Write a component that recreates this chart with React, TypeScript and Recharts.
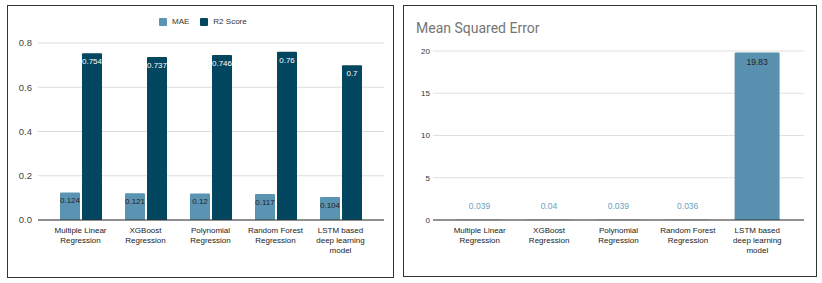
import React from "react";
import { BarChart, Bar, XAxis, YAxis, CartesianGrid, LabelList } from "recharts";

const categories = [
  "Multiple Linear\nRegression",
  "XGBoost\nRegression",
  "Polynomial\nRegression",
  "Random Forest\nRegression",
  "LSTM based\ndeep learning\nmodel",
];
const maeValues = [0.124, 0.121, 0.12, 0.117, 0.104];
const r2Values = [0.754, 0.737, 0.746, 0.76, 0.7];
const mseValues = [0.039, 0.04, 0.039, 0.036, 19.83];
const leftTicks = [0, 0.2, 0.4, 0.6, 0.8];
const rightTicks = [0, 5, 10, 15, 20];

const leftData = categories.map((c, i) => ({ name: c, mae: maeValues[i], r2: r2Values[i] }));
const rightData = categories.map((c, i) => ({ name: c, mse: mseValues[i] }));

const FONT = "'Liberation Sans', Arial, sans-serif";
const MAE_COLOR = "#5b93b3";
const R2_COLOR = "#03465f";

const CatTick = (props: any) => {
  const { x, y, payload } = props;
  const lines = String(payload.value).split("\n");
  return (
    <text x={x} y={y} textAnchor="middle" fontSize={8} fill="#222" fontFamily={FONT}>
      {lines.map((l: string, i: number) => (
        <tspan key={i} x={x} dy={i === 0 ? 13 : 10}>
          {l}
        </tspan>
      ))}
    </text>
  );
};

const MseLabel = (props: any) => {
  const { x, y, width, value } = props;
  const cx = Number(x) + Number(width) / 2;
  if (Number(value) < 1) {
    return (
      <text x={cx} y={Number(y) - 11} textAnchor="middle" fontSize={8.5} fill="#6a9fc0" fontFamily={FONT}>
        {value}
      </text>
    );
  }
  return (
    <text x={cx} y={Number(y) + 13} textAnchor="middle" fontSize={8.5} fill="#222" fontFamily={FONT}>
      {value}
    </text>
  );
};

export default function App() {
  return (
    <div style={{ position: "absolute", left: 0, top: 0, width: 822, height: 283, background: "#fff", overflow: "hidden" }}>
      {/* Left panel */}
      <div style={{ position: "absolute", left: 7, top: 5, width: 387, height: 273, border: "1px solid #333", boxSizing: "border-box" }} />
      <div style={{ position: "absolute", left: 7, top: 5 }}>
        <BarChart
          width={387}
          height={273}
          data={leftData}
          margin={{ top: 38, right: 10, bottom: 18, left: 0 }}
          barSize={20}
          barGap={2}
        >
          <CartesianGrid vertical={false} stroke="#dcdcdc" />
          <XAxis
            dataKey="name"
            tick={<CatTick />}
            tickLine={false}
            tickSize={0}
            tickMargin={0}
            interval={0}
            height={40}
            axisLine={{ stroke: "#333" }}
            padding={{ left: 10, right: 11 }}
          />
          <YAxis
            domain={[0, 0.8]}
            ticks={leftTicks}
            width={31}
            axisLine={false}
            tickLine={false}
            tickSize={0}
            tickMargin={6}
            tickFormatter={(v: number) => v.toFixed(1)}
            tick={{ fontSize: 9.5, fill: "#444", fontFamily: FONT }}
          />
          <Bar dataKey="mae" fill={MAE_COLOR} isAnimationActive={false} radius={[1, 1, 0, 0]}>
            <LabelList dataKey="mae" position="insideTop" offset={5} fontSize={8} fill="#222" fontFamily={FONT} />
          </Bar>
          <Bar dataKey="r2" fill={R2_COLOR} isAnimationActive={false} radius={[1, 1, 0, 0]}>
            <LabelList dataKey="r2" position="insideTop" offset={5} fontSize={8} fill="#fff" fontFamily={FONT} />
          </Bar>
        </BarChart>
      </div>
      {/* Legend */}
      <div style={{ position: "absolute", left: 159, top: 17, display: "flex", alignItems: "center", fontFamily: FONT, fontSize: 8, color: "#333", lineHeight: "10px" }}>
        <span style={{ display: "inline-block", width: 8, height: 8, background: MAE_COLOR, borderRadius: 1 }} />
        <span style={{ marginLeft: 5 }}>MAE</span>
        <span style={{ display: "inline-block", width: 8, height: 8, background: R2_COLOR, borderRadius: 1, marginLeft: 11 }} />
        <span style={{ marginLeft: 5 }}>R2 Score</span>
      </div>

      {/* Right panel */}
      <div style={{ position: "absolute", left: 403, top: 5, width: 414, height: 272, border: "1px solid #333", boxSizing: "border-box" }} />
      <div style={{ position: "absolute", left: 416, top: 19, fontFamily: "Roboto, sans-serif", fontSize: 14, color: "#757575", lineHeight: "18px" }}>
        Mean Squared Error
      </div>
      <div style={{ position: "absolute", left: 403, top: 5 }}>
        <BarChart
          width={414}
          height={272}
          data={rightData}
          margin={{ top: 46, right: 13, bottom: 17, left: 0 }}
          barSize={45}
        >
          <CartesianGrid vertical={false} stroke="#e0e0e0" />
          <XAxis
            dataKey="name"
            tick={<CatTick />}
            tickLine={false}
            tickSize={0}
            tickMargin={0}
            interval={0}
            height={40}
            axisLine={{ stroke: "#333" }}
            padding={{ left: 12, right: 12 }}
          />
          <YAxis
            domain={[0, 20]}
            ticks={rightTicks}
            width={30}
            axisLine={false}
            tickLine={false}
            tickSize={0}
            tickMargin={3}
            tick={{ fontSize: 8, fill: "#333", fontFamily: FONT }}
          />
          <Bar dataKey="mse" fill="#5a90af" isAnimationActive={false} radius={[1, 1, 0, 0]}>
            <LabelList dataKey="mse" content={<MseLabel />} />
          </Bar>
        </BarChart>
      </div>
    </div>
  );
}
